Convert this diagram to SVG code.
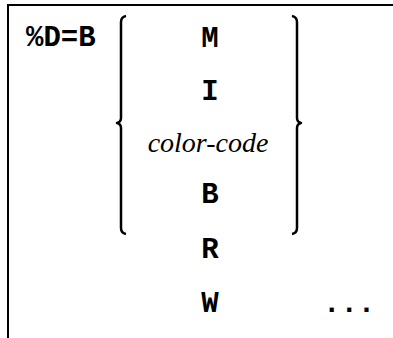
<svg xmlns="http://www.w3.org/2000/svg" width="393" height="338" viewBox="0 0 393 338">
<style>
.m{font-family:"Liberation Mono","Courier New",monospace;font-weight:bold;font-size:29px;fill:#000}
.i{font-family:"Liberation Serif","Times New Roman",serif;font-style:italic;font-size:28px;fill:#000}
.c{text-anchor:middle}
.br{fill:none;stroke:#000;stroke-width:2.5;stroke-linejoin:round}
.fr{fill:none;stroke:#000;stroke-width:2}
</style>
<rect width="393" height="338" fill="#fff"/>
<g id="frame"><path class="fr" d="M8 338 V5 H393"/></g>
<g id="label"><text class="m" x="26" y="46">%D=B</text></g>
<g id="braces">
<path class="br" d="M126 16 Q121 17 121 22 L121 118 Q121 122 117 123 Q121 124 121 128 L121 228 Q121 233 126 234"/>
<path class="br" d="M292 16 Q297 17 297 22 L297 118 Q297 122 301 123 Q297 124 297 128 L297 228 Q297 233 292 234"/>
</g>
<g id="options">
<text class="m c" x="210" y="47">M</text>
<text class="m c" x="210" y="100">I</text>
<text class="i c" x="208" y="152">color-code</text>
<text class="m c" x="210" y="203">B</text>
<text class="m c" x="210" y="258">R</text>
<text class="m c" x="210" y="312">W</text>
<text class="m" x="323" y="312">...</text>
</g>
</svg>
